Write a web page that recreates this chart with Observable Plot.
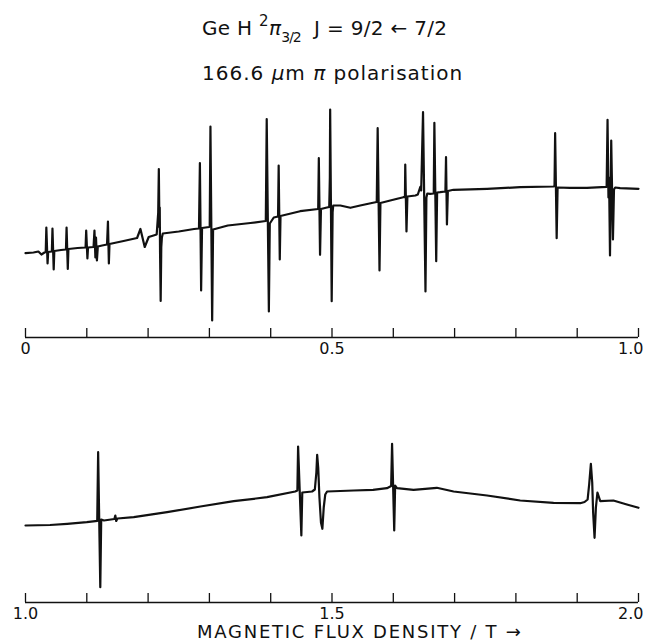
<!DOCTYPE html>
<html><head><meta charset="utf-8">
<script src="https://cdn.jsdelivr.net/npm/d3@7"></script>
<script src="https://cdn.jsdelivr.net/npm/@observablehq/plot@0.6"></script>
<style>
body{margin:0;background:#fff;}
#root{position:relative;width:646px;height:643px;overflow:hidden;font-family:"DejaVu Sans",sans-serif;color:#111;}
.t{position:absolute;white-space:nowrap;line-height:1;}
.sup{font-size:15px;position:relative;top:-9px;}
.sub{font-size:14px;position:relative;top:7px;letter-spacing:-1px;}
#top,#bottom{position:absolute;left:0;}
#top{top:90px;} #bottom{top:420px;}
</style></head><body><div id="root">
<div class="t" id="t1" style="left:202px;top:18px;font-size:20px;letter-spacing:0.3px;">Ge H <span class="sup">2</span><i>π</i><span class="sub">3/2</span>&nbsp; J = 9/2 ← 7/2</div>
<div class="t" id="t2" style="left:202px;top:63px;font-size:20px;letter-spacing:1px;">166.6 <i>μ</i>m <i>π</i> polarisation</div>
<div id="top"></div>
<div id="bottom"></div>
<div class="t" id="xl" style="left:197px;top:623px;font-size:18px;letter-spacing:1.75px;">MAGNETIC FLUX DENSITY / T →</div>
</div>
<script>
// field B (T), signal (arbitrary units)
const topTrace = [
[0.000,84.3],[0.013,85],[0.021,86],[0.026,83],[0.031,85],
[0.033,85.5],[0.034,110],[0.036,74],[0.037,85.5],
[0.043,86],[0.044,109],[0.046,68],[0.047,86.5],
[0.058,87.5],
[0.066,88],[0.067,110],[0.069,68.5],[0.070,88.5],
[0.085,89.5],
[0.098,90],[0.099,107],[0.101,79],[0.102,90],
[0.111,90.5],[0.1125,107],[0.114,80],[0.115,100],[0.1165,77],[0.118,91],
[0.125,92],
[0.133,93],[0.1345,116],[0.136,74],[0.137,93.5],
[0.160,96.5],[0.182,99.5],[0.1875,108.5],[0.1945,90.5],[0.201,100.5],
[0.214,103],[0.2165,125],[0.2175,168.5],[0.2185,110],[0.219,130],[0.2195,85],[0.2205,36.5],[0.2215,90],[0.2225,100],[0.224,104],
[0.250,106],[0.275,108.5],
[0.283,109],[0.2845,174.5],[0.2865,47],[0.288,109.5],
[0.2995,110.5],
[0.3005,111],[0.3017,211],[0.3045,17],[0.306,108],
[0.330,112],[0.367,114.5],
[0.392,116.5],[0.3935,218.5],[0.397,26],[0.3985,114],
[0.405,120],
[0.412,121],[0.413,172],[0.4148,78],[0.416,121.5],
[0.448,126.3],
[0.4775,128.5],[0.4785,179.3],[0.4805,82.7],[0.482,128.5],
[0.490,129.7],
[0.4955,130.5],[0.4965,160],[0.497,228],[0.4995,36.3],[0.501,125],[0.502,132],
[0.5136,132],[0.530,129.7],[0.546,132],[0.565,134.5],
[0.573,135.5],[0.5745,209.3],[0.5775,67],[0.579,134.5],
[0.595,137],[0.6163,140.3],
[0.619,140.5],[0.6195,173],[0.6215,106],[0.623,141],
[0.636,142],[0.640,143],[0.644,150.5],[0.6455,147],
[0.6485,225.3],[0.6525,46],[0.654,140],[0.6555,144],
[0.660,143.7],
[0.666,144],[0.667,214.7],[0.670,76.3],[0.6715,145],
[0.6765,145.3],
[0.685,146],[0.686,180.3],[0.6875,113],[0.689,146.5],
[0.698,147.7],[0.753,148.7],[0.807,150.3],[0.8614,151],
[0.863,151.5],[0.864,204.3],[0.8665,99.3],[0.868,150],
[0.888,149.7],[0.916,149.7],[0.948,150.7],
[0.9495,217.7],[0.951,140],[0.952,160],[0.9535,82],[0.9555,197],[0.9583,98],[0.960,148],[0.962,150],
[0.970,149.3],[1.000,148.7]
];
const bottomTrace = [
[1.000,77],[1.040,77.5],[1.068,78.7],[1.100,80.3],[1.114,81.3],
[1.117,81.5],[1.1185,150.3],[1.122,15.3],[1.1235,83],
[1.128,82],[1.145,83.5],[1.1465,87],[1.148,81.5],[1.150,84],
[1.1766,85.3],[1.231,90.3],[1.2853,96],[1.3397,101.3],[1.394,105.3],[1.440,111],
[1.4435,112],[1.4447,156],[1.450,67],[1.4515,110],
[1.4675,111],[1.472,113],[1.4745,130],[1.4758,147.7],[1.4775,135],[1.4795,105],[1.482,80],[1.4843,73.7],[1.4865,95],[1.489,108],[1.492,111],
[1.5353,112],[1.567,112.7],[1.5897,114.3],
[1.5965,116.5],[1.598,158.7],[1.6015,72],[1.603,117],
[1.606,114.3],[1.633,112.7],[1.671,114.7],[1.6984,111],[1.753,107],[1.807,102],[1.8614,99.7],[1.905,99.3],[1.912,100.5],
[1.917,103],[1.9195,118],[1.9223,138.7],[1.9245,120],[1.926,90],[1.9283,64.7],[1.9305,95],[1.933,110],
[1.9376,101.3],[1.959,102],[1.981,98],[2.000,94.7]
];
const topTicks = [0,0.1,0.2,0.3,0.4,0.5,0.6,0.7,0.8,0.9,1.0];
const bottomTicks = [1.0,1.1,1.2,1.3,1.4,1.5,1.6,1.7,1.8,1.9,2.0];
const topLabels = [0, 0.5, 1.0];
const topLabelText = ["0", "0.5", "1.0"];
const bottomLabels = [1.0, 1.5, 2.0];
const bottomLabelText = ["1.0", "1.5", "2.0"];

const ink = "#111";
function panel(trace, ticks, labels, labelText, xDomain, yDomain, height, marginBottom) {
  const last = labels[labels.length - 1];
  const fmt = d => labelText[labels.indexOf(d)];
  return Plot.plot({
    width: 646, height,
    marginLeft: 25, marginRight: 8, marginTop: 0, marginBottom,
    x: {domain: xDomain},
    y: {domain: yDomain, axis: null},
    style: {fontFamily: "DejaVu Sans, sans-serif", fontSize: "16px", color: ink, background: "transparent", overflow: "visible"},
    marks: [
      Plot.ruleY([yDomain[0]], {stroke: ink, strokeWidth: 1.4}),
      Plot.ruleX(ticks, {y1: yDomain[0], y2: yDomain[0] + 9, stroke: ink, strokeWidth: 1.3}),
      Plot.axisX(labels.slice(0, -1), {tickSize: 0, tickPadding: 5, fontSize: 16, tickFormat: fmt, label: null}),
      Plot.axisX([last], {tickSize: 0, tickPadding: 5, fontSize: 16, textAnchor: "end", dx: 5, tickFormat: fmt, label: null}),
      Plot.line(trace, {x: d => d[0], y: d => d[1], stroke: ink, strokeWidth: 2.2, strokeLinejoin: "round", strokeLinecap: "round"})
    ]
  });
}
document.getElementById("top").append(panel(topTrace, topTicks, topLabels, topLabelText, [0, 1], [0, 247], 270, 23));
document.getElementById("bottom").append(panel(bottomTrace, bottomTicks, bottomLabels, bottomLabelText, [1, 2], [0, 182], 202, 20));
</script>
</body></html>
